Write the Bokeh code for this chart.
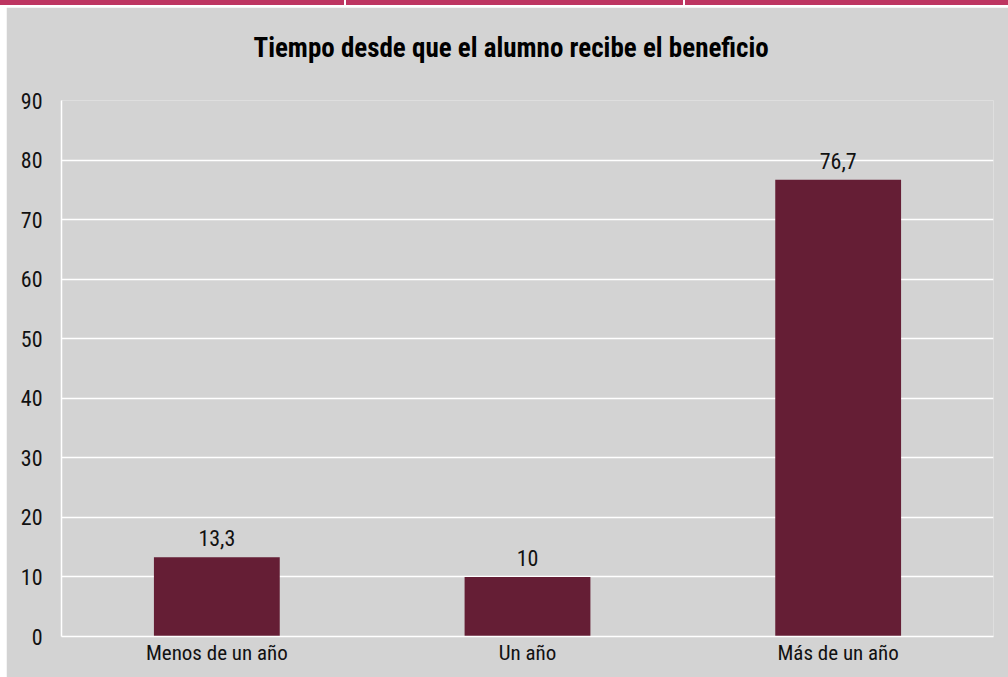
from bokeh.plotting import figure
from bokeh.models import ColumnDataSource, FixedTicker, LabelSet, Div, Column, Row, Title
from bokeh.core.properties import value
from bokeh.embed import file_html
from bokeh.resources import INLINE

categories = ["Menos de un año", "Un año", "Más de un año"]
values = [13.3, 10, 76.7]
value_labels = ["13,3", "10", "76,7"]
y_ticks = [0, 10, 20, 30, 40, 50, 60, 70, 80, 90]
title_text = "Tiempo desde que el alumno recibe el beneficio"

GREY = "#d3d3d3"
BAR = "#651e35"
MAGENTA = "#bd3561"
FONT = "Roboto Condensed"


def strip(w, color):
    return Div(text="", width=w, height=5, margin=(0, 0, 0, 0),
               styles={"background-color": color})


band = Row(strip(344, MAGENTA), strip(2, "#ffffff"), strip(337, MAGENTA),
           strip(2, "#ffffff"), strip(323, MAGENTA), spacing=0, margin=(0, 0, 0, 0))

src = ColumnDataSource(dict(cat=categories, val=values, lab=value_labels))

p = figure(
    x_range=categories, y_range=(0, 90),
    frame_width=932, frame_height=536,
    min_border_left=55, min_border_right=15, min_border_top=93, min_border_bottom=41,
    output_backend="svg", toolbar_location=None,
    background_fill_color=GREY, border_fill_color=GREY,
    outline_line_color=None, margin=(2, 0, 0, 6),
)

p.vbar(x="cat", top="val", width=0.405, source=src, fill_color=BAR, line_color=None)

p.add_layout(LabelSet(x="cat", y="val", text="lab", source=src,
                      text_align="center", text_baseline="alphabetic",
                      y_offset=11, text_font=value(FONT), text_font_size="22px",
                      text_color="#111111"))

p.xgrid.grid_line_color = None
p.ygrid.grid_line_color = "white"
p.ygrid.grid_line_width = 1.5
p.yaxis.ticker = FixedTicker(ticks=y_ticks)

for ax in (p.xaxis, p.yaxis):
    ax.axis_line_color = "white"
    ax.axis_line_width = 1.5
    ax.major_tick_line_color = None
    ax.minor_tick_line_color = None
    ax.major_label_text_font = FONT
    ax.major_label_text_font_size = "22px"
    ax.major_label_text_color = "#111111"

p.yaxis.major_label_standoff = 13
p.xaxis.major_label_standoff = -2
p.xaxis.major_label_text_font_size = "21px"

# spacer between frame and title, then the title
p.add_layout(Title(text=" ", text_font_size="18px"), "above")
p.add_layout(Title(text=title_text, align="left", offset=192, text_font=FONT,
                   text_font_style="bold", text_font_size="27px", text_color="black"),
             "above")

layout = Column(band, p, spacing=0, margin=(0, 0, 0, 0))

html = file_html(layout, INLINE)
html = html.replace("</head>", "<style>html,body{margin:0;padding:0;background:#ffffff;}</style></head>", 1)
open("out.html", "w").write(html)
